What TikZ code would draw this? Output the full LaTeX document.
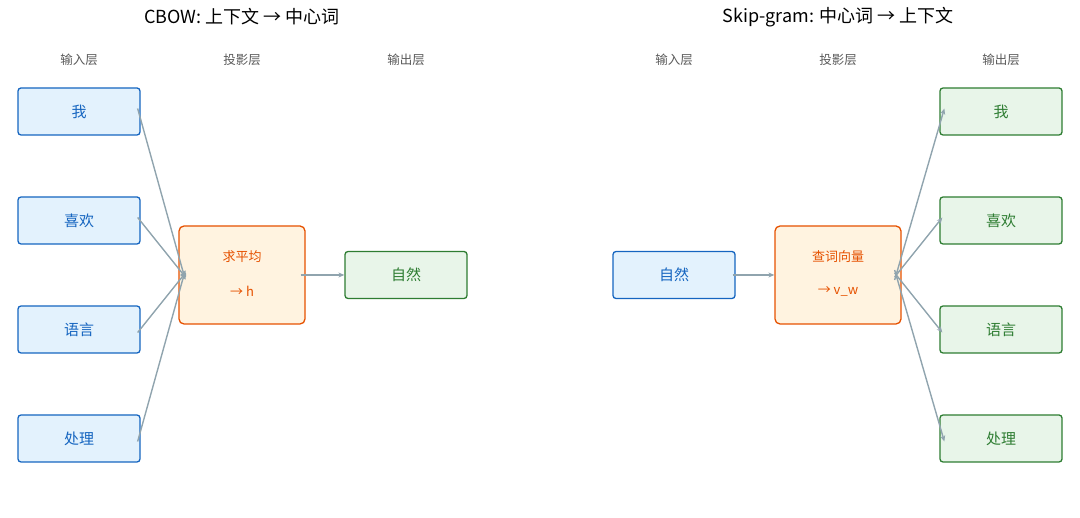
\documentclass[tikz,border=0pt]{standalone}
\usepackage{fontspec}
\setmainfont{Noto Sans CJK SC}
\usetikzlibrary{arrows.meta}
\definecolor{inb}{HTML}{1565C0}\definecolor{inf}{HTML}{E3F2FD}
\definecolor{prb}{HTML}{E65100}\definecolor{prf}{HTML}{FFF3E0}
\definecolor{oub}{HTML}{2E7D32}\definecolor{ouf}{HTML}{E8F5E9}
\definecolor{arr}{HTML}{90A4AE}
\begin{document}
\begin{tikzpicture}[x=1pt,y=-1pt,
  box/.style={draw, line width=1.3pt, rounded corners=3pt, minimum width=122pt, minimum height=47pt, font=\fontsize{15}{17}\selectfont},
  inp/.style={box, draw=inb, fill=inf, text=inb},
  outp/.style={box, draw=oub, fill=ouf, text=oub},
  proj/.style={draw=prb, fill=prf, line width=1.3pt, rounded corners=5pt, minimum width=126pt, minimum height=98pt},
  ptxt/.style={text=prb, font=\fontsize{13}{15}\selectfont},
  layer/.style={text=black!65, font=\fontsize{12.5}{14}\selectfont},
  ttl/.style={font=\fontsize{18}{20}\selectfont},
  link/.style={draw=arr, line width=1.4pt, -{Stealth[length=6pt,width=5pt]}}]
\useasboundingbox (0,0) rectangle (1080,518);
% CBOW
\node[ttl] (t1) at (242,17) {CBOW: 上下文 → 中心词};
\node[layer] (l1) at (79,60) {输入层};
\node[layer] (l2) at (242,60) {投影层};
\node[layer] (l3) at (406,60) {输出层};
\node[inp] (c1) at (79,111.5) {我};
\node[inp] (c2) at (79,220.5) {喜欢};
\node[inp] (c3) at (79,329.5) {语言};
\node[inp] (c4) at (79,438.5) {处理};
\node[proj] (avg) at (242,275) {};
\node[ptxt] (avgt) at (242,257) {求平均};
\node[ptxt] (avgh) at (242,291) {→ h};
\node[outp] (cw) at (406,275) {自然};
\draw[link] ([xshift=-3pt,yshift=3pt]c1.east) -- ([xshift=7pt,yshift=-5pt]avg.west);
\draw[link] ([xshift=-3pt,yshift=3pt]c2.east) -- ([xshift=7pt,yshift=-2pt]avg.west);
\draw[link] ([xshift=-3pt,yshift=-3pt]c3.east) -- ([xshift=7pt,yshift=2pt]avg.west);
\draw[link] ([xshift=-3pt,yshift=-3pt]c4.east) -- ([xshift=7pt,yshift=5pt]avg.west);
\draw[link] ([xshift=-5pt]avg.east) -- (cw.west);
% Skip-gram
\node[ttl] (t2) at (838,17) {Skip-gram: 中心词 → 上下文};
\node[layer] (r1) at (674,60) {输入层};
\node[layer] (r2) at (838,60) {投影层};
\node[layer] (r3) at (1001,60) {输出层};
\node[inp] (sw) at (674,275) {自然};
\node[proj] (look) at (838,275) {};
\node[ptxt] (lookt) at (838,257) {查词向量};
\node[ptxt] (lookv) at (838,291) {→ v\_w};
\node[outp] (s1) at (1001,111.5) {我};
\node[outp] (s2) at (1001,220.5) {喜欢};
\node[outp] (s3) at (1001,329.5) {语言};
\node[outp] (s4) at (1001,438.5) {处理};
\draw[link] ([xshift=-3pt]sw.east) -- (look.west);
\draw[link] ([xshift=-7pt,yshift=-5pt]look.east) -- ([xshift=5pt,yshift=3pt]s1.west);
\draw[link] ([xshift=-7pt,yshift=-2pt]look.east) -- ([xshift=3pt,yshift=3pt]s2.west);
\draw[link] ([xshift=-7pt,yshift=2pt]look.east) -- ([xshift=3pt,yshift=-3pt]s3.west);
\draw[link] ([xshift=-7pt,yshift=5pt]look.east) -- ([xshift=5pt,yshift=-3pt]s4.west);
\end{tikzpicture}
\end{document}
